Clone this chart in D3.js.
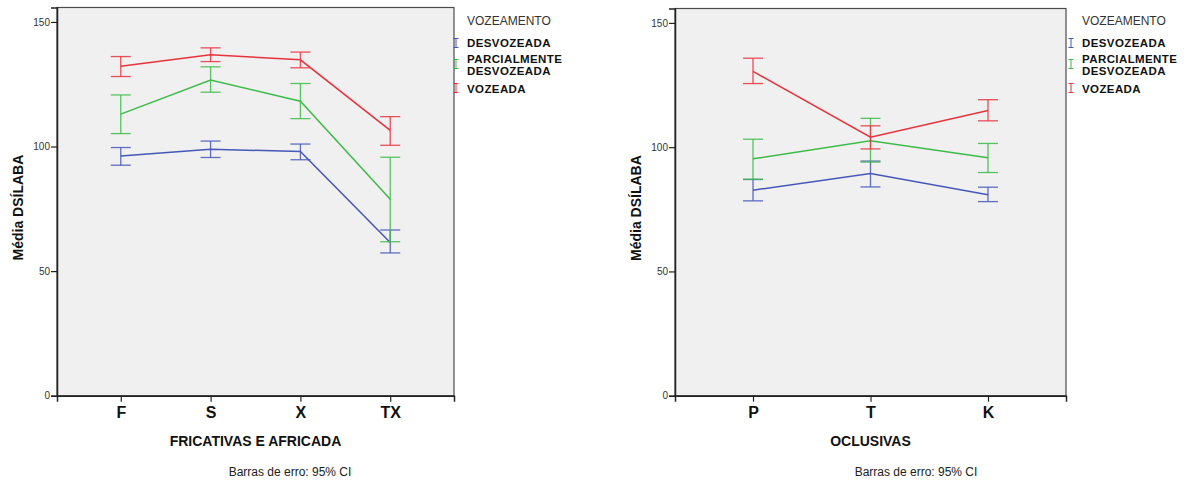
<!DOCTYPE html>
<html>
<head>
<meta charset="utf-8">
<script src="https://cdn.jsdelivr.net/npm/d3@7"></script>
<style>
  html, body { margin: 0; padding: 0; background: #fff; }
  svg { display: block; font-family: "Liberation Sans", Arial, sans-serif; }
</style>
</head>
<body>
<svg id="chart" width="1184" height="481"></svg>
<script>
// Categories of each panel
const fricCategories = ["F", "S", "X", "TX"];
const oclCategories = ["P", "T", "K"];

// Series (VOZEAMENTO groups)
const seriesNames = ["DESVOZEADA", "PARCIALMENTE DESVOZEADA", "VOZEADA"];
const seriesColors = ["#4557b8", "#3dbb48", "#e8333d"];

// Y axis ticks
const yTicks = [0, 50, 100, 150];

// Fricativas e africada: means and 95% CI bounds
const fricDesvMean = [96.2, 98.9, 98.0, 61.5];
const fricDesvLow  = [92.5, 95.6, 94.7, 57.3];
const fricDesvHigh = [99.6, 102.2, 101.0, 66.5];

const fricParcMean = [113.0, 126.7, 118.2, 78.8];
const fricParcLow  = [105.2, 121.8, 111.2, 61.8];
const fricParcHigh = [120.7, 132.0, 125.3, 95.7];

const fricVozMean = [132.2, 136.8, 134.8, 106.5];
const fricVozLow  = [128.1, 134.1, 131.6, 100.5];
const fricVozHigh = [136.1, 139.6, 137.9, 112.0];

// Oclusivas: means and 95% CI bounds
const oclDesvMean = [82.7, 89.4, 80.9];
const oclDesvLow  = [78.4, 84.0, 78.1];
const oclDesvHigh = [87.0, 94.4, 83.9];

const oclParcMean = [95.3, 102.6, 95.7];
const oclParcLow  = [87.1, 94.0, 89.8];
const oclParcHigh = [103.2, 111.6, 101.5];

const oclVozMean = [130.5, 104.0, 114.8];
const oclVozLow  = [125.6, 99.3, 110.6];
const oclVozHigh = [135.8, 108.6, 119.1];

const svg = d3.select("#chart");

function buildSeries(cats, means, lows, highs) {
  return means.map((m, s) => ({
    name: seriesNames[s],
    color: seriesColors[s],
    points: cats.map((c, i) => ({ cat: c, mean: m[i], low: lows[s][i], high: highs[s][i] }))
  }));
}

function drawPanel(opts) {
  const { left, right, top, bottom, cats, padding, series, xTitle, legendX, footX } = opts;
  const g = svg.append("g");

  const x = d3.scalePoint().domain(cats).range([left, right]).padding(padding);
  const y = d3.scaleLinear().domain([0, 155.8]).range([bottom, top]);

  // plot background and frame
  g.append("rect")
    .attr("x", left).attr("y", top)
    .attr("width", right - left).attr("height", bottom - top)
    .attr("fill", "#f0f0f0")
    .attr("stroke", "#4a4a4a").attr("stroke-width", 1.2);

  // y axis
  const yAxis = g.append("g")
    .attr("transform", `translate(${left},0)`)
    .call(d3.axisLeft(y).tickValues(yTicks).tickSize(6).tickPadding(1).tickFormat(d3.format("d")));
  yAxis.select(".domain").attr("stroke", "#222").attr("stroke-width", 1.5);
  yAxis.selectAll(".tick line").attr("stroke", "#222").attr("stroke-width", 1.2);
  yAxis.selectAll(".tick text")
    .attr("font-family", "Liberation Sans, Arial, sans-serif")
    .attr("font-size", 10).attr("fill", "#333");

  // x axis
  const xAxis = g.append("g")
    .attr("transform", `translate(0,${bottom})`)
    .call(d3.axisBottom(x).tickSize(6).tickPadding(5));
  xAxis.select(".domain").attr("stroke", "#222").attr("stroke-width", 1.5);
  xAxis.selectAll(".tick line").attr("stroke", "#222").attr("stroke-width", 1.2);
  xAxis.selectAll(".tick text")
    .attr("font-family", "Liberation Sans, Arial, sans-serif")
    .attr("font-size", 16).attr("font-weight", "bold").attr("fill", "#111");

  // axis titles
  const plotMid = (left + right) / 2;
  g.append("text")
    .attr("x", plotMid).attr("y", 446)
    .attr("text-anchor", "middle")
    .attr("font-size", 14).attr("font-weight", "bold").attr("fill", "#111")
    .text(xTitle);

  g.append("text")
    .attr("transform", `translate(${left - 34},${(top + bottom) / 2 + 6}) rotate(-90)`)
    .attr("text-anchor", "middle")
    .attr("font-size", 14).attr("font-weight", "bold").attr("fill", "#111")
    .text("Média DSÍLABA");

  g.append("text")
    .attr("x", footX).attr("y", 476)
    .attr("text-anchor", "middle")
    .attr("font-size", 12).attr("fill", "#222")
    .text("Barras de erro: 95% CI");

  // lines and error bars
  const line = d3.line().x(d => x(d.cat)).y(d => y(d.mean));
  const capHalf = 10;

  series.forEach(s => {
    const sg = g.append("g");
    s.points.forEach(p => {
      const cx = x(p.cat);
      sg.append("line")
        .attr("x1", cx).attr("x2", cx)
        .attr("y1", y(p.low)).attr("y2", y(p.high))
        .attr("stroke", s.color).attr("stroke-width", 1.3).attr("stroke-opacity", 0.85);
      [p.low, p.high].forEach(v => {
        sg.append("line")
          .attr("x1", cx - capHalf).attr("x2", cx + capHalf)
          .attr("y1", y(v)).attr("y2", y(v))
          .attr("stroke", s.color).attr("stroke-width", 1.3).attr("stroke-opacity", 0.85);
      });
    });
    sg.append("path")
      .datum(s.points)
      .attr("d", line)
      .attr("fill", "none")
      .attr("stroke", s.color).attr("stroke-width", 1.5);
  });

  // legend
  const lg = g.append("g");
  lg.append("text")
    .attr("x", legendX + 11).attr("y", 24.5)
    .attr("font-size", 12).attr("fill", "#333")
    .text("VOZEAMENTO");

  const items = [
    { lines: ["DESVOZEADA"], y: 47, sym: 43 },
    { lines: ["PARCIALMENTE", "DESVOZEADA"], y: 63, sym: 64 },
    { lines: ["VOZEADA"], y: 93, sym: 88 }
  ];
  items.forEach((it, i) => {
    const c = seriesColors[i];
    const sx = legendX;
    lg.append("line").attr("x1", sx).attr("x2", sx)
      .attr("y1", it.sym - 4.5).attr("y2", it.sym + 4.5)
      .attr("stroke", c).attr("stroke-width", 1);
    [it.sym - 4.5, it.sym + 4.5].forEach(v => {
      lg.append("line").attr("x1", sx - 2.5).attr("x2", sx + 2.5)
        .attr("y1", v).attr("y2", v)
        .attr("stroke", c).attr("stroke-width", 1);
    });
    it.lines.forEach((t, k) => {
      lg.append("text")
        .attr("x", legendX + 11).attr("y", it.y + k * 12)
        .attr("font-size", 11.5).attr("font-weight", "bold")
        .attr("letter-spacing", 0.4).attr("fill", "#111")
        .text(t);
    });
  });
}

drawPanel({
  left: 57, right: 454, top: 7.5, bottom: 395.7,
  cats: fricCategories, padding: 0.71,
  series: buildSeries(fricCategories,
    [fricDesvMean, fricParcMean, fricVozMean],
    [fricDesvLow, fricParcLow, fricVozLow],
    [fricDesvHigh, fricParcHigh, fricVozHigh]),
  xTitle: "FRICATIVAS E AFRICADA",
  legendX: 456, footX: 290
});

drawPanel({
  left: 675, right: 1066, top: 8.5, bottom: 395.7,
  cats: oclCategories, padding: 0.664,
  series: buildSeries(oclCategories,
    [oclDesvMean, oclParcMean, oclVozMean],
    [oclDesvLow, oclParcLow, oclVozLow],
    [oclDesvHigh, oclParcHigh, oclVozHigh]),
  xTitle: "OCLUSIVAS",
  legendX: 1071, footX: 916
});
</script>
</body>
</html>
